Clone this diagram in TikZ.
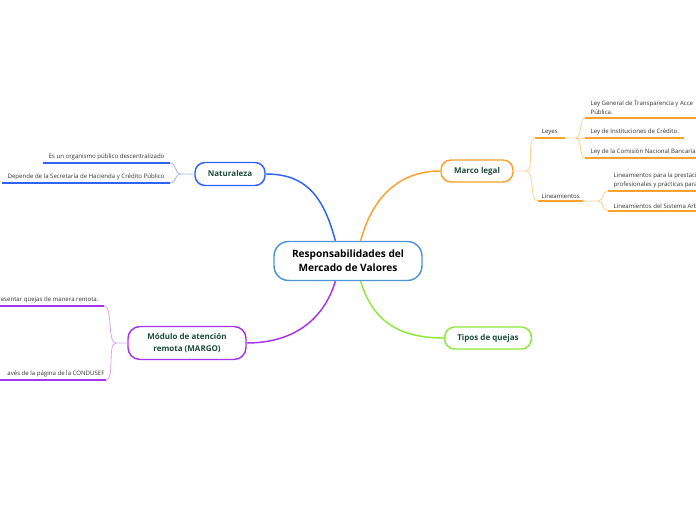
\documentclass[tikz,border=0pt]{standalone}
\usepackage{fontspec}
\setmainfont{Open Sans}
\usetikzlibrary{positioning}
\definecolor{deepgreen}{HTML}{1D4D3D}
\definecolor{rootblue}{HTML}{4E94D8}
\definecolor{natblue}{HTML}{2F62F5}
\definecolor{marcoorange}{HTML}{FBA12C}
\definecolor{tiposgreen}{HTML}{8EE83A}
\definecolor{margopurple}{HTML}{A434EE}
\definecolor{leaftext}{HTML}{333333}

\begin{document}
\begin{tikzpicture}[x=0.75pt, y=-0.75pt,
  topic/.style={draw, line width=1.1pt, rounded corners=7.5pt, fill=white, text=deepgreen,
    font=\fontsize{6}{8.5}\selectfont\bfseries, align=center, inner sep=0pt},
  leaf/.style={text=leaftext, font=\fontsize{4.55}{6.8}\selectfont, inner xsep=4pt, inner ysep=2pt, align=left},
  branch/.style={line width=1.1pt},
  twig/.style={line width=0.6pt},
  uline/.style={line width=1.5pt}]
  \useasboundingbox (0,0) rectangle (696,520);
  \clip (0,0) rectangle (696,520);
  \coordinate (leftedge) at (0,0);
  \coordinate (rightedge) at (696,0);

  % Central topic
  \node[topic, draw=rootblue, rounded corners=11pt, minimum width=111pt, minimum height=29.25pt,
    font=\fontsize{7.6}{10.5}\selectfont\bfseries, text=black] (root) at (348,261) {Responsabilidades del\\Mercado de Valores};

  % Main topics
  \node[topic, draw=natblue, minimum width=52.5pt, minimum height=17.25pt] (nat) at (230,174) {Naturaleza};
  \node[topic, draw=marcoorange, minimum width=54pt, minimum height=16.5pt] (marco) at (477,171) {Marco legal};
  \node[topic, draw=tiposgreen, minimum width=65pt, minimum height=16.5pt] (tipos) at (488,338) {Tipos de quejas};
  \node[topic, draw=margopurple, rounded corners=9pt, minimum width=88.5pt, minimum height=24.75pt] (margo) at (187,343) {Módulo de atención\\remota (MARGO)};

  \draw[natblue, branch] (root.122) .. controls +(-12,-45) and +(40,0) .. (nat.east);
  \draw[marcoorange, branch] (root.58) .. controls +(12,-45) and +(-40,0) .. (marco.west);
  \draw[tiposgreen, branch] (root.302) .. controls +(12,40) and +(-45,0) .. (tipos.west);
  \draw[margopurple, branch] (root.238) .. controls +(-12,40) and +(45,0) .. (margo.east);

  % Naturaleza
  \coordinate (natfork) at (181,174);
  \node[leaf, anchor=south east] (nat1) at (170,163) {Es un organismo público descentralizado};
  \node[leaf, anchor=south east] (nat2) at (170,183) {Depende de la Secretaría de Hacienda y Crédito Público};
  \draw[natblue, uline] (nat1.south west) -- (nat1.south east);
  \draw[natblue, uline] (nat2.south west) -- (nat2.south east);
  \draw[natblue!45, twig] (nat.west) -- (natfork) .. controls +(-7,0) and +(7,0) .. (nat1.south east);
  \draw[natblue!45, twig] (natfork) .. controls +(-7,0) and +(7,0) .. (nat2.south east);

  % Marco legal
  \coordinate (marcofork) at (526,171);
  \node[leaf, anchor=south west, inner xsep=5pt] (leyes) at (535,138) {Leyes};
  \node[leaf, anchor=south west, inner xsep=2.5pt] (linea) at (538,201) {Lineamientos};
  \draw[marcoorange, uline] (leyes.south west) -- (leyes.south east);
  \draw[marcoorange, uline] (linea.south west) -- (linea.south east);
  \draw[marcoorange!50, twig] (marco.east) -- (marcofork) .. controls +(9,0) and +(-9,0) .. (leyes.south west);
  \draw[marcoorange!50, twig] (marcofork) .. controls +(9,0) and +(-9,0) .. (linea.south west);

  \coordinate (leyesfork) at (576,138);
  \node[leaf, anchor=south west] (ley1) at (585,118) {Ley General de Transparencia y Acce\\Pública.};
  \node[leaf, anchor=south west] (ley2) at (585,138) {Ley de Instituciones de Crédito.};
  \node[leaf, anchor=south west] (ley3) at (585,158) {Ley de la Comisión Nacional Bancaria};
  \draw[marcoorange, uline] (ley1.south west) -- (ley1.south west -| rightedge);
  \draw[marcoorange, uline] (ley2.south west) -- (ley2.south east);
  \draw[marcoorange, uline] (ley3.south west) -- (ley3.south west -| rightedge);
  \draw[marcoorange!50, twig] (leyes.south east) -- (leyesfork) .. controls +(6,0) and +(-6,0) .. (ley1.south west);
  \draw[marcoorange!50, twig] (leyesfork) -- (ley2.south west);
  \draw[marcoorange!50, twig] (leyesfork) .. controls +(6,0) and +(-6,0) .. (ley3.south west);

  \coordinate (lineafork) at (598,201);
  \node[leaf, anchor=south west] (lin1) at (608,191) {Lineamientos para la prestaci\\profesionales y prácticas para};
  \node[leaf, anchor=south west] (lin2) at (608,211) {Lineamientos del Sistema Arb};
  \draw[marcoorange, uline] (lin1.south west) -- (lin1.south west -| rightedge);
  \draw[marcoorange, uline] (lin2.south west) -- (lin2.south west -| rightedge);
  \draw[marcoorange!50, twig] (linea.south east) -- (lineafork) .. controls +(6,0) and +(-6,0) .. (lin1.south west);
  \draw[marcoorange!50, twig] (lineafork) .. controls +(6,0) and +(-6,0) .. (lin2.south west);

  % Modulo de atencion remota
  \coordinate (margofork) at (116,343);
  \node[leaf, anchor=south east] (margo1) at (104,306) {resentar quejas de manera remota.};
  \node[leaf, anchor=south east, inner xsep=1pt] (margo2) at (106,380) {avés de la página de la CONDUSEF};
  \draw[margopurple, uline] (margo1.south east) -- (margo1.south east -| leftedge);
  \draw[margopurple, uline] (margo2.south east) -- (margo2.south east -| leftedge);
  \draw[margopurple!45, twig] (margo.west) -- (margofork) .. controls +(-9,0) and +(9,0) .. (margo1.south east);
  \draw[margopurple!45, twig] (margofork) .. controls +(-9,0) and +(9,0) .. (margo2.south east);
\end{tikzpicture}
\end{document}
